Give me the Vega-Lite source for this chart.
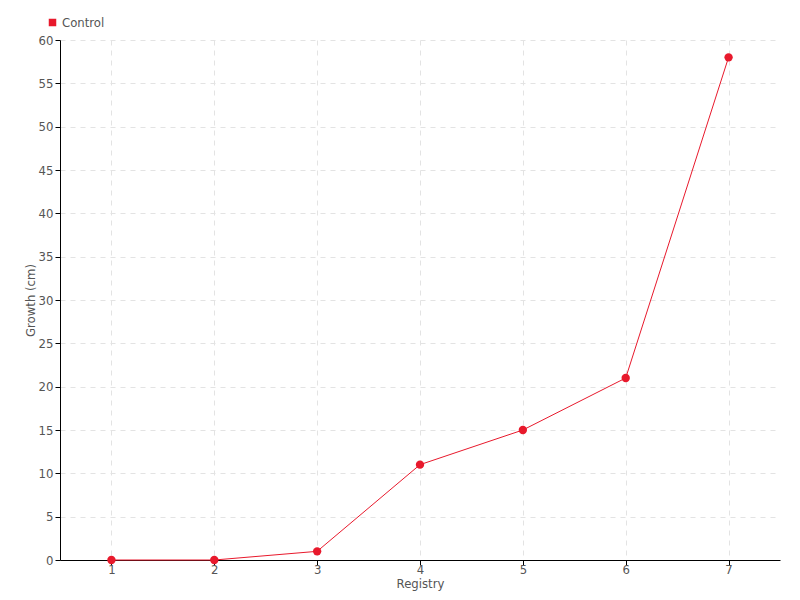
{
  "$schema": "https://vega.github.io/schema/vega-lite/v6.json",
  "autosize": "none",
  "width": 720,
  "height": 520,
  "padding": {"left": 60, "top": 40, "right": 20, "bottom": 40},
  "background": "white",
  "config": {
    "font": "DejaVu Sans Condensed, Roboto, sans-serif",
    "view": {"stroke": null},
    "axis": {
      "labelFont": "DejaVu Sans Condensed, Roboto, sans-serif",
      "titleFont": "DejaVu Sans Condensed, Roboto, sans-serif",
      "labelFontSize": 13,
      "titleFontSize": 13,
      "labelColor": "#555555",
      "titleColor": "#555555",
      "titleFontWeight": "normal",
      "domainColor": "#000000",
      "tickColor": "#000000",
      "gridColor": "#e3e3e3",
      "gridDash": [5, 5],
      "gridWidth": 1,
      "labelOverlap": false
    }
  },
  "data": {
    "values": [
      {"registry": 1, "growth": 0, "series": "Control"},
      {"registry": 2, "growth": 0, "series": "Control"},
      {"registry": 3, "growth": 1, "series": "Control"},
      {"registry": 4, "growth": 11, "series": "Control"},
      {"registry": 5, "growth": 15, "series": "Control"},
      {"registry": 6, "growth": 21, "series": "Control"},
      {"registry": 7, "growth": 58, "series": "Control"}
    ]
  },
  "encoding": {
    "x": {
      "field": "registry",
      "type": "ordinal",
      "scale": {"type": "point", "padding": 0.5},
      "axis": {"title": "Registry", "labelAngle": 0, "tickSize": 5, "labelPadding": -2, "titlePadding": 1, "grid": true}
    },
    "y": {
      "field": "growth",
      "type": "quantitative",
      "scale": {"domain": [0, 60], "nice": false},
      "axis": {"title": "Growth (cm)", "values": [0,5,10,15,20,25,30,35,40,45,50,55,60], "tickSize": 5, "labelPadding": 2, "titlePadding": 1, "grid": true}
    },
    "color": {
      "field": "series",
      "type": "nominal",
      "scale": {"range": ["#e8192c"]},
      "legend": {
        "title": null,
        "orient": "none",
        "legendX": -14,
        "legendY": -24,
        "symbolType": "square",
        "symbolSize": 36,
        "labelFontSize": 13,
        "labelColor": "#555555",
        "labelFont": "DejaVu Sans Condensed, Roboto, sans-serif",
        "labelOffset": 3
      }
    }
  },
  "layer": [
    {"mark": {"type": "line", "strokeWidth": 1, "color": "#ff3344"}},
    {"mark": {"type": "circle", "size": 70, "opacity": 1}}
  ]
}
